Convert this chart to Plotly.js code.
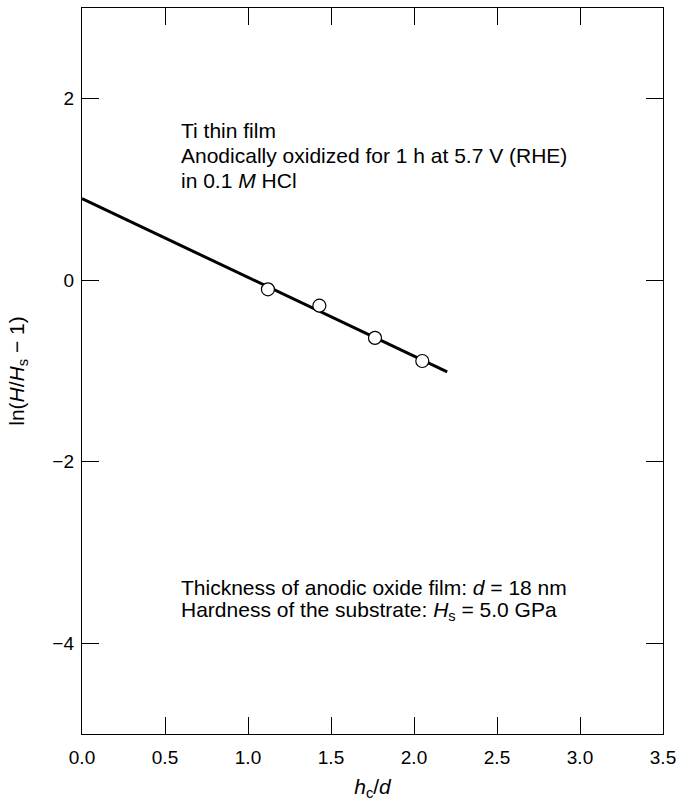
<!DOCTYPE html>
<html>
<head>
<meta charset="utf-8">
<script src="https://cdn.plot.ly/plotly-3.0.1.min.js"></script>
<style>html,body{margin:0;padding:0;background:#fff;}#chart{width:678px;height:801px;}</style>
</head>
<body>
<div id="chart"></div>
<script>
// Measured points
var hcOverD = [1.12, 1.43, 1.765, 2.05];
var lnHratio = [-0.10, -0.28, -0.635, -0.89];
// Fitted line
var fitX = [0, 2.2];
var fitY = [0.9, -1.01];
var xTicks = [0, 0.5, 1, 1.5, 2, 2.5, 3, 3.5];
var xTickText = ['0.0', '0.5', '1.0', '1.5', '2.0', '2.5', '3.0', '3.5'];
var yTicks = [2, 0, -2, -4];
var yTickText = ['2', '0', '\u22122', '\u22124'];

var FONT = 'Liberation Sans, Arial, Helvetica, sans-serif';

var traces = [
  {x: fitX, y: fitY, mode: 'lines', line: {color: '#000', width: 3}, showlegend: false, hoverinfo: 'skip'},
  {x: hcOverD, y: lnHratio, mode: 'markers', marker: {symbol: 'circle', size: 13, color: '#fff', line: {color: '#000', width: 1.2}}, showlegend: false}
];

var annFont = {family: FONT, size: 21, color: '#000'};
function ann(text, x, y) {
  return {text: text, xref: 'paper', yref: 'paper', x: x, y: y, xanchor: 'left', yanchor: 'middle', showarrow: false, font: annFont, align: 'left'};
}

var layout = {
  width: 678, height: 801,
  margin: {l: 82, r: 15, t: 8, b: 67},
  paper_bgcolor: '#fff', plot_bgcolor: '#fff',
  font: {family: FONT, size: 19, color: '#000'},
  xaxis: {
    range: [0, 3.5], tickvals: xTicks, ticktext: xTickText,
    ticks: 'inside', ticklen: 17, tickwidth: 1, tickcolor: '#000',
    showline: true, linecolor: '#000', linewidth: 1.2, mirror: 'ticks',
    showgrid: false, zeroline: false, ticklabelstandoff: 6,
    tickfont: {family: FONT, size: 19, color: '#000'},
    title: {text: '<i>h</i><sub>c</sub>/<i>d</i>', font: {family: FONT, size: 21, color: '#000'}, standoff: 14}
  },
  yaxis: {
    range: [-5, 3], tickvals: yTicks, ticktext: yTickText,
    ticks: 'inside', ticklen: 17, tickwidth: 1, tickcolor: '#000',
    showline: true, linecolor: '#000', linewidth: 1.2, mirror: 'ticks',
    showgrid: false, zeroline: false, ticklabelstandoff: 3,
    tickfont: {family: FONT, size: 19, color: '#000'},
    title: {text: 'ln(<i>H</i>/<i>H</i><sub>s</sub> \u2212 1)', font: {family: FONT, size: 21, color: '#000'}, standoff: 22}
  },
  annotations: [
    ann('Ti thin film', 0.167, 0.831),
    ann('Anodically oxidized for 1 h at 5.7 V (RHE)', 0.167, 0.797),
    ann('in 0.1 <i>M</i> HCl', 0.167, 0.763),
    ann('Thickness of anodic oxide film: <i>d</i> = 18 nm', 0.167, 0.202),
    ann('Hardness of the substrate: <i>H</i><sub>s</sub> = 5.0 GPa', 0.167, 0.169)
  ]
};

Plotly.newPlot('chart', traces, layout, {displayModeBar: false, staticPlot: true});
</script>
</body>
</html>
